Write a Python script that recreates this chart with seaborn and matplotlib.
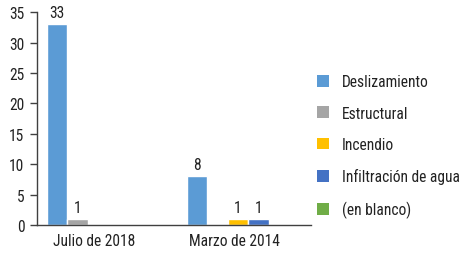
import matplotlib
matplotlib.use('Agg')
import matplotlib.pyplot as plt
from matplotlib.patches import Patch
from matplotlib.transforms import ScaledTranslation
import numpy as np
import pandas as pd
import seaborn as sns

periodos = ['Julio de 2018', 'Marzo de 2014']
tipos = ['Deslizamiento', 'Estructural', 'Incendio', 'Infiltración de agua', '(en blanco)']
colores = ['#5B9BD5', '#A5A5A5', '#FFC000', '#4472C4', '#70AD47']
julio_2018 = [33, 1, np.nan, np.nan, np.nan]
marzo_2014 = [8, np.nan, 1, 1, np.nan]

df = pd.DataFrame({
    'periodo': [periodos[0]] * 5 + [periodos[1]] * 5,
    'tipo': tipos * 2,
    'valor': julio_2018 + marzo_2014,
}).dropna()

sns.set_style('white')
plt.rcParams['font.family'] = ['Roboto Condensed', 'PT Sans Narrow', 'Archivo Narrow',
                               'Liberation Sans', 'DejaVu Sans']
fs = 11.2
texto = '#222222'

fig = plt.figure(figsize=(4.66, 2.55), dpi=100)
ax = fig.add_axes([37 / 466, 29 / 255, 274 / 466, 212.7 / 255])

paleta = dict(zip(tipos, colores))
sns.barplot(data=df, x='periodo', y='valor', hue='tipo', order=periodos,
            hue_order=tipos, palette=paleta, width=0.732, errorbar=None,
            saturation=1, legend=False, ax=ax)

for c in ax.containers:
    ax.bar_label(c, fmt='%.0f', padding=3, fontsize=fs, color=texto)

ax.set_ylim(0, 35)
ax.set_yticks(range(0, 36, 5))
ax.set_xlim(-0.436, 1.521)
ax.set_xlabel('')
ax.set_ylabel('')
sns.despine(ax=ax)
for s in ['left', 'bottom']:
    ax.spines[s].set_color('#404040')
    ax.spines[s].set_linewidth(1)
ax.tick_params(axis='y', length=5, width=1, color='#404040', pad=4,
               labelsize=fs, labelcolor=texto, left=True)
ax.tick_params(axis='x', length=0, pad=6, labelsize=fs, labelcolor=texto)
for lab in ax.get_xticklabels():
    lab.set_transform(lab.get_transform() + ScaledTranslation(-0.04, 0, fig.dpi_scale_trans))

handles = [Patch(facecolor=col, edgecolor='none') for col in colores]
fig.legend(handles, tipos, loc='center left', bbox_to_anchor=(317 / 466, 1 - 147 / 255),
           frameon=False, borderpad=0, borderaxespad=0, handlelength=0.8, handleheight=0.8,
           handletextpad=0.8, labelspacing=1.05, fontsize=fs, labelcolor=texto)

fig.savefig('out.png', dpi=100)
